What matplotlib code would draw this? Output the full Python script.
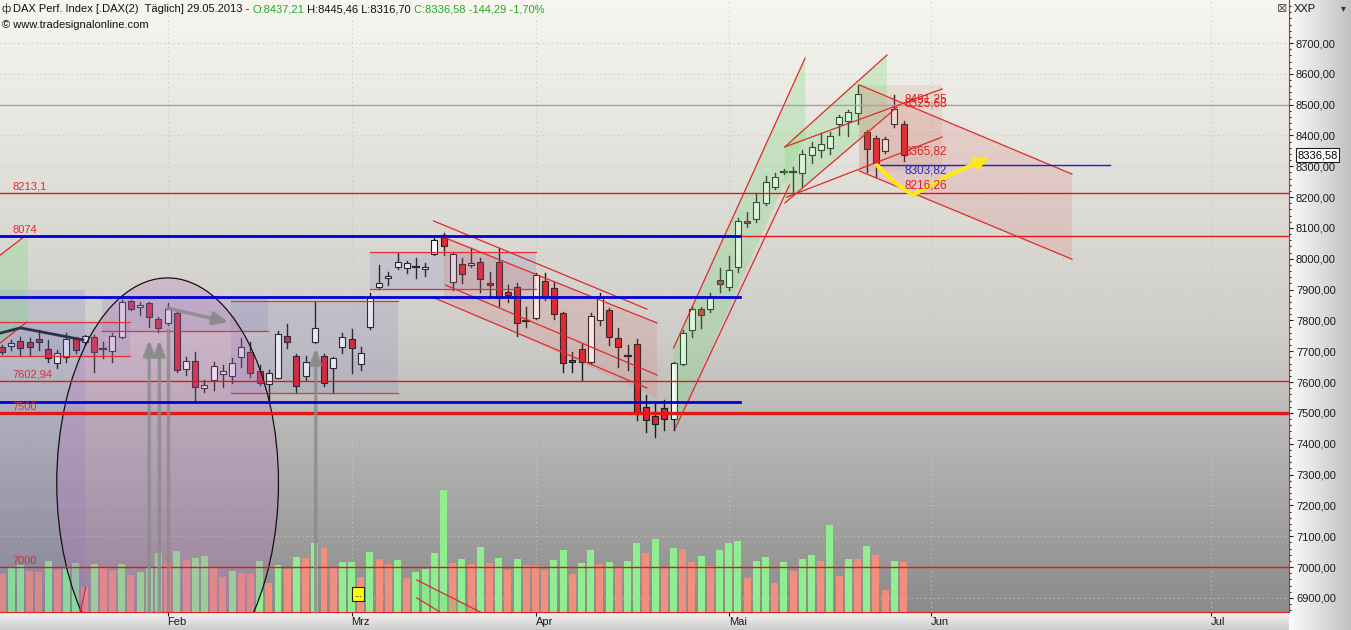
import matplotlib
matplotlib.use("Agg")
import matplotlib.pyplot as plt
import numpy as np
from matplotlib.patches import Rectangle, Ellipse, Polygon
from matplotlib.colors import LinearSegmentedColormap
from matplotlib.ticker import FixedLocator, MultipleLocator, FuncFormatter
from matplotlib.transforms import blended_transform_factory

plt.rcParams['font.family'] = ['Liberation Sans', 'DejaVu Sans']

# DAX daily candles, bar 0 = 08.01.2013 ... bar 98 = 29.05.2013
opens = [7713, 7718, 7734, 7729, 7739, 7706, 7663, 7680, 7742, 7729,
         7745, 7708, 7702, 7747, 7863, 7843, 7858, 7804, 7793, 7823,
         7643, 7669, 7582, 7607, 7628, 7620, 7680, 7699, 7637, 7594,
         7615, 7750, 7685, 7621, 7731, 7685, 7645, 7713, 7740, 7658,
         7780, 7909, 7937, 7972, 7969, 7970, 7966, 8016, 8077, 7926,
         7983, 7980, 7991, 7922, 7991, 7892, 7908, 7800, 7807, 7929,
         7904, 7823, 7672, 7706, 7666, 7801, 7834, 7742, 7687, 7723,
         7520, 7491, 7517, 7479, 7659, 7769, 7836, 7837, 7931, 7908,
         7974, 8122, 8128, 8180, 8234, 8281, 8285, 8277, 8337, 8353,
         8358, 8436, 8448, 8472, 8412, 8393, 8350, 8437, 8437.21]
highs = [7722, 7737, 7747, 7743, 7769, 7737, 7704, 7760, 7747, 7753,
         7753, 7731, 7759, 7866, 7866, 7861, 7861, 7810, 7856, 7828,
         7683, 7699, 7607, 7665, 7655, 7677, 7742, 7731, 7655, 7639,
         7765, 7787, 7691, 7685, 7863, 7691, 7683, 7758, 7772, 7713,
         7888, 7980, 7958, 8018, 7994, 8002, 7985, 8066, 8083, 8023,
         8002, 8034, 8002, 7958, 8034, 7915, 7921, 7845, 7955, 7955,
         7925, 7828, 7698, 7725, 7825, 7888, 7839, 7775, 7720, 7740,
         7558, 7537, 7542, 7666, 7770, 7845, 7845, 7888, 7970, 8010,
         8131, 8153, 8212, 8267, 8277, 8290, 8299, 8353, 8380, 8407,
         8412, 8466, 8483, 8564, 8418, 8398, 8394, 8531, 8445.46]
lows = [7690, 7704, 7688, 7688, 7704, 7666, 7646, 7666, 7693, 7720,
        7634, 7677, 7666, 7743, 7833, 7818, 7780, 7764, 7785, 7634,
        7623, 7542, 7569, 7575, 7585, 7596, 7650, 7618, 7591, 7542,
        7612, 7710, 7566, 7607, 7728, 7588, 7564, 7693, 7629, 7639,
        7771, 7901, 7915, 7966, 7955, 7937, 7944, 8012, 8012, 7899,
        7921, 7974, 7893, 7877, 7847, 7861, 7750, 7780, 7804, 7866,
        7804, 7634, 7634, 7607, 7660, 7785, 7720, 7650, 7640, 7477,
        7439, 7423, 7445, 7445, 7655, 7747, 7775, 7828, 7893, 7900,
        7958, 8104, 8120, 8175, 8228, 8275, 8212, 8234, 8310, 8331,
        8340, 8401, 8398, 8437, 8283, 8264, 8344, 8427, 8316.70]
closes = [7698, 7726, 7710, 7715, 7730, 7677, 7693, 7740, 7703, 7750,
          7697, 7706, 7750, 7861, 7836, 7850, 7812, 7777, 7836, 7639,
          7669, 7583, 7591, 7652, 7637, 7661, 7713, 7631, 7596, 7631,
          7755, 7731, 7587, 7664, 7775, 7598, 7679, 7745, 7710, 7693,
          7874, 7920, 7944, 7989, 7985, 7972, 7972, 8061, 8043, 8016,
          7950, 7987, 7934, 7914, 7872, 7883, 7791, 7798, 7947, 7877,
          7821, 7661, 7664, 7666, 7814, 7874, 7745, 7715, 7685, 7504,
          7477, 7464, 7481, 7661, 7760, 7836, 7818, 7877, 7918, 7964,
          8124, 8115, 8183, 8250, 8264, 8283, 8283, 8340, 8364, 8371,
          8399, 8459, 8475, 8534, 8355, 8310, 8388, 8485, 8336.58]

# volume (relative units) and bar colour g/r
volumes = [38, 45, 47, 41, 40, 51, 42, 43, 49, 25,
           48, 45, 41, 48, 37, 40, 45, 59, 50, 61,
           52, 54, 56, 44, 35, 41, 39, 38, 51, 29,
           47, 43, 55, 54, 69, 64, 44, 50, 50, 35,
           60, 53, 48, 52, 34, 40, 43, 59, 122, 49,
           53, 48, 65, 49, 54, 42, 53, 47, 46, 42,
           52, 62, 38, 49, 62, 48, 50, 45, 51, 69,
           59, 73, 45, 64, 63, 50, 56, 46, 62, 69,
           71, 34, 51, 55, 29, 50, 41, 53, 57, 51,
           87, 36, 53, 53, 66, 57, 22, 51, 50]
vol_up = ("rggrrgrggr" "grrgrgggrg" "rggrrgrrgr" "grgrgrrggr" "grrgrggggr"
          "grgrgrgrrr" "ggrggrgrgg" "rgrgrrgrgg" "grggrgrggr" "grgrgrrgr")

month_pos = [18, 38, 58, 79, 101, 131.4]
month_names = ["Feb", "Mrz", "Apr", "Mai", "Jun", "Jul"]
price_ticks = list(range(6900, 8800, 100))

# horizontal levels
red_levels = [8213.1, 8074, 7602.94, 7500, 7000]
red_labels = ["8213,1", "8074", "7602,94", "7500", "7000"]
blue_levels = [8074, 7875, 7535]
blue_end = 80.2
grey_level = 8500
pivot_level = 8303.82
pivot_span = (95.2, 120.4)

# drawn objects (bar index, price)
range_boxes = [(-0.2, 13.9, 7685, 7795),
               (10.9, 28.9, 7766, 7876),
               (24.9, 43.0, 7565, 7863),
               (40.0, 58.0, 7902, 8022)]
left_zone = (-0.2, 9.0, 7899)
top_box = (93.2, 102.2, 8285, 8564)
trend_lines = [(-0.2, 8012, 2.5, 8074), (-0.2, 7727, 2.7, 7795),
               (46.9, 8123, 70.1, 7837), (47.9, 8071, 71.2, 7792),
               (48.2, 7915, 71.2, 7623), (47.0, 7873, 70.1, 7581),
               (73.0, 7711, 87.3, 8651), (73.2, 7451, 85.6, 8239),
               (85.1, 8363, 96.2, 8661), (85.1, 8363, 102.2, 8551),
               (85.1, 8181, 97.3, 8492), (85.3, 8200, 102.2, 8395),
               (93.2, 8564, 116.3, 8275), (93.2, 8285, 116.3, 7999),
               (45.1, 6958, 52.0, 6854), (45.1, 6900, 47.6, 6854),
               (8.5, 6854, 9.1, 6935)]
green_zones = [[(-0.2, 8012), (2.8, 8080), (2.8, 7802), (-0.2, 7727)],
               [(73.0, 7711), (87.3, 8651), (87.3, 8395), (73.2, 7451)],
               [(85.1, 8363), (96.2, 8661), (96.2, 8467), (85.1, 8181)],
               [(45.1, 6958), (52.0, 6854), (47.6, 6854), (45.1, 6900)]]
pink_zones = [[(48.0, 8074), (71.2, 7792), (71.2, 7549), (48.0, 7866)],
              [(93.2, 8564), (116.3, 8275), (116.3, 7999), (93.2, 8285)]]
ellipse_c = (18.0, 7273)
ellipse_wh = (24.1, 1330)
up_arrows = [(16.0, 7737), (17.1, 7737), (34.1, 7711)]
grey_post = (18.05, 7769)
drift_arrow = (18.0, 7840, 24.6, 7795)
ma_x = [-0.2, 2.0, 8.8]
ma_y = [7759, 7776, 7737]
yellow_x = [95.1, 97.1, 99.0, 103.0, 107.4]
yellow_y = [8304, 8246, 8207, 8272, 8330]
tags = [("8491,25", 8518, '#e02020'), ("8525,68", 8504, '#e02020'),
        ("8365,82", 8347, '#e02020'), ("8303,82", 8286, '#2a2ac0'),
        ("8216,26", 8239, '#e02020')]
tag_x = 98.15

xlo, xhi = -0.22, 139.9
ylo, yhi = 6854.4, 8839.5

W, H = 1351, 630
fig = plt.figure(figsize=(W / 100, H / 100), dpi=100)
ax = fig.add_axes([0, 18 / H, 1289 / W, 612 / H])

# background gradient
bg = LinearSegmentedColormap.from_list('bg', [(0, '#8b8b8b'), (0.22, '#acacab'),
                                              (0.45, '#cecdc9'), (0.75, '#e4e2dc'),
                                              (1, '#f8f6f0')])
ax.imshow(np.linspace(0, 1, 256)[::-1].reshape(-1, 1), cmap=bg, aspect='auto',
          extent=[xlo, xhi, ylo, yhi], zorder=0)

# side panels
pax = fig.add_axes([1289 / W, 0, 62 / W, 1], zorder=-2)
pax.imshow(np.linspace(0, 1, 64).reshape(1, -1), aspect='auto',
           cmap=LinearSegmentedColormap.from_list('p', ['#fbfbfb', '#c2c2c2']),
           extent=[0, 1, 0, 1])
pax.axis('off')
bax = fig.add_axes([0, 0, 1289 / W, 18 / H], zorder=-2)
bax.imshow(np.linspace(0, 1, 32).reshape(-1, 1), aspect='auto',
           cmap=LinearSegmentedColormap.from_list('b', ['#f2f2f2', '#cdcdcd']),
           extent=[0, 1, 0, 1])
bax.axis('off')

# grid
for p in price_ticks:
    ax.axhline(p, color='#c6c6c6', lw=0.8, ls=(0, (1, 3)), zorder=0.5)
for m in month_pos:
    ax.axvline(m, color='#c6c6c6', lw=0.8, ls=(0, (1, 3)), zorder=0.5)

# volume pane, scaled into the bottom of the price axis
bars = np.arange(len(opens))
k = (yhi - ylo) / 612
ax.bar(bars, np.array(volumes) * k, bottom=ylo, width=0.76,
       color=['#90ee90' if f == 'g' else '#f0907c' for f in vol_up], zorder=1)

# candles
bw = 0.66
for i in bars:
    o, h, l, c = opens[i], highs[i], lows[i], closes[i]
    ax.plot([i, i], [l, h], color='#1c1c1c', lw=1, zorder=2)
    lo_b, hi_b = min(o, c), max(o, c)
    if hi_b - lo_b < 4:
        ax.plot([i - bw / 2, i + bw / 2], [c, c], color='#1c1c1c', lw=1.6, zorder=2.1)
    else:
        ax.add_patch(Rectangle((i - bw / 2, lo_b), bw, hi_b - lo_b,
                               facecolor='#ffffff' if c > o else '#e3202c',
                               edgecolor='#1c1c1c', lw=0.8, zorder=2.1))

# translucent zones
x0, x1, top = left_zone
ax.add_patch(Rectangle((x0, ylo), x1 - x0, top - ylo, facecolor='#6c6cd0', alpha=0.17, lw=0, zorder=3))
for b0, b1, lo, hi in range_boxes:
    ax.add_patch(Rectangle((b0, lo), b1 - b0, hi - lo, facecolor='#7070b8', alpha=0.17, lw=0, zorder=3))
    ax.plot([b0, b1], [lo, lo], color='#e83030', lw=0.9, zorder=4)
    ax.plot([b0, b1], [hi, hi], color='#e83030', lw=0.9, zorder=4)
b0, b1, lo, hi = top_box
ax.add_patch(Rectangle((b0, lo), b1 - b0, hi - lo, facecolor='#b07050', alpha=0.12, lw=0, zorder=3))
for z in green_zones:
    ax.add_patch(Polygon(z, closed=True, facecolor='#78dc78', alpha=0.28, lw=0, zorder=3))
for z in pink_zones:
    ax.add_patch(Polygon(z, closed=True, facecolor='#e06060', alpha=0.17, lw=0, zorder=3))
ax.add_patch(Ellipse(ellipse_c, ellipse_wh[0], ellipse_wh[1], facecolor='#c070c0',
                     alpha=0.27, lw=0, zorder=3))
ax.add_patch(Ellipse(ellipse_c, ellipse_wh[0], ellipse_wh[1], facecolor='none',
                     edgecolor='#111111', lw=0.9, zorder=4))

# levels
ax.axhline(grey_level, color='#a4a4a4', lw=1, zorder=3.5)
for lv, lab in zip(red_levels, red_labels):
    ax.axhline(lv, color='#e01818', lw=2.4 if lv == 7500 else 1, zorder=4)
    ax.text(1.09, lv + 4, lab, color='#d83030', fontsize=8, va='bottom', ha='left', zorder=5)
for lv in blue_levels:
    ax.plot([xlo, blue_end], [lv, lv], color='#0000d8', lw=2, zorder=4.2)
ax.plot(pivot_span, [pivot_level, pivot_level], color='#2020d0', lw=1, zorder=4.2)

for xa, ya, xb, yb in trend_lines:
    ax.plot([xa, xb], [ya, yb], color='#e02a2a', lw=0.9, zorder=4)
ax.plot(ma_x, ma_y, color='#2c3048', lw=2, zorder=4)

# grey arrows
for xa, tip in up_arrows:
    ax.annotate('', xy=(xa, tip), xytext=(xa, ylo), zorder=4,
                arrowprops=dict(arrowstyle='-|>,head_width=0.35,head_length=0.9',
                                color='#8a8a8a', lw=2.5, alpha=0.8, shrinkA=0, shrinkB=0))
ax.plot([grey_post[0], grey_post[0]], [ylo, grey_post[1]], color='#8a8a8a', lw=2.5, alpha=0.8, zorder=4)
xa, ya, xb, yb = drift_arrow
ax.annotate('', xy=(xb, yb), xytext=(xa, ya), zorder=4,
            arrowprops=dict(arrowstyle='-|>,head_width=0.4,head_length=0.9',
                            color='#8a8a8a', lw=2.5, alpha=0.85, shrinkA=0, shrinkB=0))

# yellow projection
ax.plot(yellow_x[:-1], yellow_y[:-1], color='#ffe81a', lw=3, solid_capstyle='round', zorder=4.5)
ax.annotate('', xy=(yellow_x[-1], yellow_y[-1]), xytext=(yellow_x[-2], yellow_y[-2]), zorder=4.5,
            arrowprops=dict(arrowstyle='-|>,head_width=0.35,head_length=0.8',
                            color='#ffe81a', lw=3, shrinkA=0, shrinkB=0))

for lab, p, col in tags:
    ax.text(tag_x, p, lab, color=col, fontsize=8.5, va='center', ha='left', zorder=5)

ax.text(38.7, 6913, '...', fontsize=7, ha='center', va='center', zorder=5,
        bbox=dict(boxstyle='square,pad=0.25', facecolor='#ffff00', edgecolor='#222222', lw=0.8))

# axes styling
ax.set_xlim(xlo, xhi)
ax.set_ylim(ylo, yhi)
for s in ['left', 'top']:
    ax.spines[s].set_visible(False)
ax.spines['right'].set_color('#e02020')
ax.spines['bottom'].set_color('#e02020')
ax.yaxis.tick_right()
ax.yaxis.set_major_locator(FixedLocator(price_ticks))
ax.yaxis.set_minor_locator(MultipleLocator(20))
ax.yaxis.set_major_formatter(FuncFormatter(lambda v, pos: f"{v:.2f}".replace('.', ',')))
ax.tick_params(axis='y', which='major', length=3, width=0.8, pad=2, labelsize=8, colors='#1c1c1c')
ax.tick_params(axis='y', which='minor', length=1.5, width=0.8, colors='#1c1c1c')
ax.set_xticks(month_pos, month_names)
for t in ax.get_xticklabels():
    t.set_ha('left')
ax.tick_params(axis='x', length=3, width=0.8, pad=0.5, labelsize=8, colors='#1c1c1c')

# current price marker
tr = blended_transform_factory(ax.transAxes, ax.transData)
ax.text(1.0065, closes[-1], f"{closes[-1]:.2f}".replace('.', ','), transform=tr, fontsize=8,
        va='center', ha='left', clip_on=False, zorder=6,
        bbox=dict(boxstyle='square,pad=0.15', facecolor='white', edgecolor='#202020', lw=0.8))

# header texts
r = fig.canvas.get_renderer()
x = 13 / W
parts = [("DAX Perf. Index [.DAX(2)  Täglich] 29.05.2013 - ", '#111111'),
         ("O:8437,21", '#26a626'), (" H:8445,46 L:8316,70 ", '#111111'),
         ("C:8336,58 -144,29 -1,70%", '#26a626')]
for s, col in parts:
    t = fig.text(x, 1 - 9 / H, s, color=col, fontsize=8, va='center', ha='left')
    x = t.get_window_extent(renderer=r).x1 / fig.bbox.width
fig.text(2 / W, 1 - 9 / H, 'ф', fontsize=8, va='center', ha='left', color='#333333')
fig.text(2 / W, 1 - 25 / H, '© www.tradesignalonline.com', fontsize=8, va='center', ha='left', color='#111111')
fig.text(1294 / W, 1 - 9 / H, 'XXP', fontsize=8, va='center', ha='left', color='#111111')
fig.text(1343 / W, 1 - 8 / H, '▾', fontsize=7, va='center', ha='center', color='#333333',
         family=['DejaVu Sans'])
fig.text(1282 / W, 1 - 8 / H, '⊠', fontsize=9, va='center', ha='center', color='#555555',
         family=['DejaVu Sans'])

fig.savefig('out.png', dpi=100)
